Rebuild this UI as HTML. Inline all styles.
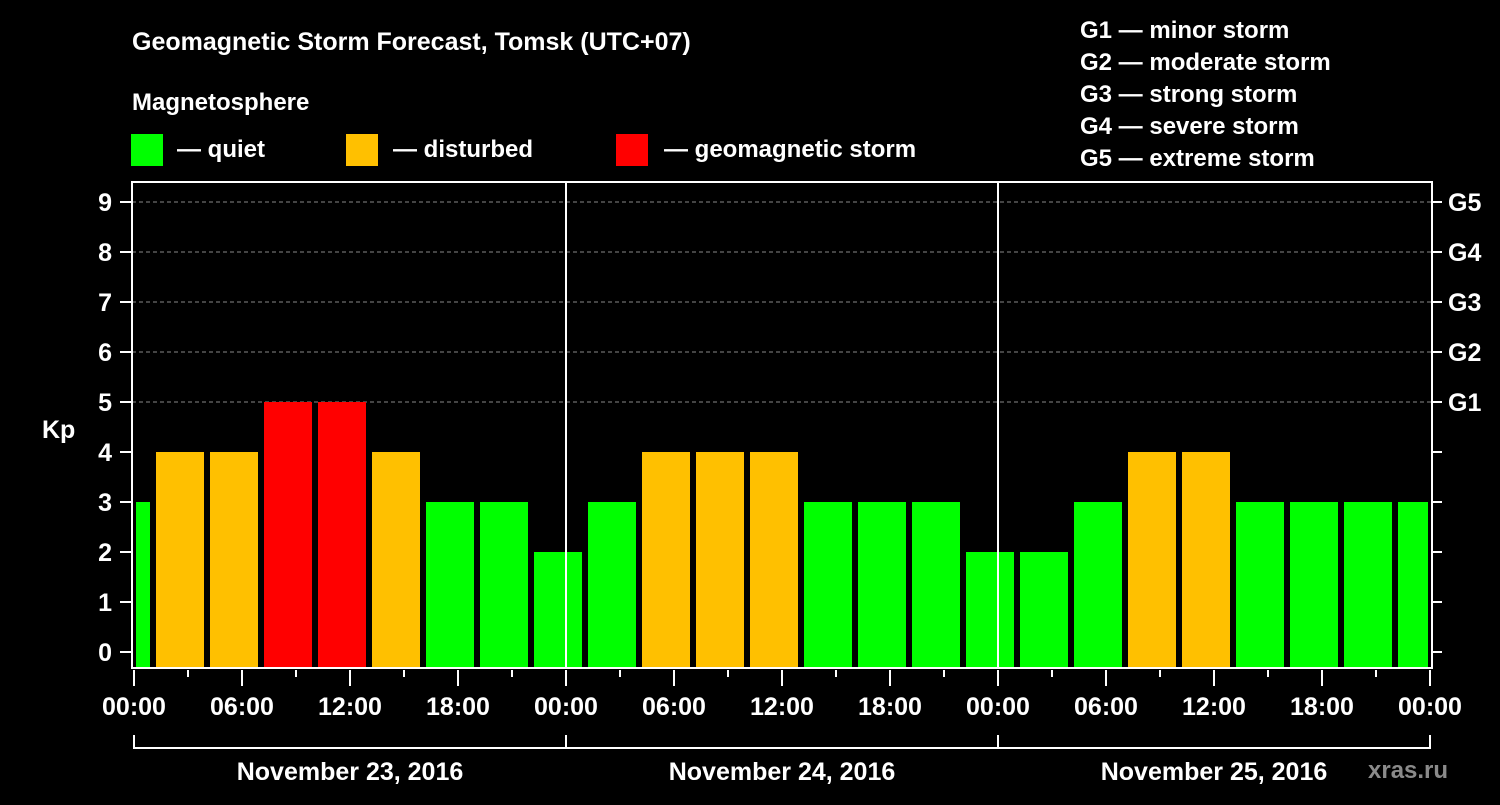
<!DOCTYPE html>
<html><head><meta charset="utf-8"><style>
body{margin:0;background:#000;width:1500px;height:800px;overflow:hidden}
svg text{font-family:"Liberation Sans",sans-serif;font-weight:bold;fill:#fff}
</style></head><body>
<svg id="c" width="1500" height="800" xmlns="http://www.w3.org/2000/svg">
<text x="132" y="50" font-size="25">Geomagnetic Storm Forecast, Tomsk (UTC+07)</text>
<text x="132" y="110" font-size="24">Magnetosphere</text>
<g><rect x="131" y="134" width="32" height="32" fill="#00ff00"/><text x="177" y="157" font-size="24">— quiet</text></g>
<g><rect x="346" y="134" width="32" height="32" fill="#ffc000"/><text x="393" y="157" font-size="24">— disturbed</text></g>
<g><rect x="616" y="134" width="32" height="32" fill="#ff0000"/><text x="664" y="157" font-size="24">— geomagnetic storm</text></g>
<g font-size="24">
<text x="1080" y="38">G1 — minor storm</text><text x="1080" y="70">G2 — moderate storm</text><text x="1080" y="102">G3 — strong storm</text><text x="1080" y="134">G4 — severe storm</text><text x="1080" y="166">G5 — extreme storm</text></g>
<text x="42" y="438" font-size="25">Kp</text>
<text x="1368" y="778" font-size="24" fill="#888" style="fill:#8a8a8a">xras.ru</text>
<g id="plot"></g>
</svg>
<script>
const kpValues=[3,4,4,5,5,4,3,3,2,3,4,4,4,3,3,3,2,2,3,4,4,3,3,3,3];
const slotStartHour=-2;
const dayLabels=["November 23, 2016","November 24, 2016","November 25, 2016"];
const hourLabels=["00:00","06:00","12:00","18:00"];
const gLabels=["G1","G2","G3","G4","G5"];
const X0=134,PX_H=1296/72,Y0=652,PX_K=50,TOP=182,BOT=668,L=132,R=1432;
const xs=h=>X0+h*PX_H, ys=k=>Y0-k*PX_K;
const g=document.getElementById('plot');const NS="http://www.w3.org/2000/svg";
function mk(t,a,txt){const e=document.createElementNS(NS,t);for(const k in a)e.setAttribute(k,a[k]);if(txt!=null)e.textContent=txt;g.appendChild(e);return e;}
for(let k=5;k<=9;k++){const e=mk('line',{x1:L,x2:R,y1:ys(k),y2:ys(k),stroke:'#888','stroke-dasharray':'4 3','stroke-width':1});

}
kpValues.forEach((v,i)=>{const h0=slotStartHour+3*i;let x1=Math.max(xs(h0)+4,L+4),x2=Math.min(xs(h0+3)-2,R-4);
const col=v>=5?'#ff0000':(v>=4?'#ffc000':'#00ff00');
const e=mk('rect',{x:x1,y:ys(v),width:x2-x1,height:BOT-ys(v),fill:col});

});
const fr=mk('rect',{x:L,y:TOP,width:R-L,height:BOT-TOP,fill:'none',stroke:'#fff','stroke-width':2});


for(let d=1;d<3;d++){const e=mk('line',{x1:xs(24*d),x2:xs(24*d),y1:TOP,y2:BOT,stroke:'#fff','stroke-width':2});

}
for(let k=0;k<=9;k++){mk('line',{x1:L-12,x2:L,y1:ys(k),y2:ys(k),stroke:'#fff','stroke-width':2});
mk('line',{x1:R,x2:R+10,y1:ys(k),y2:ys(k),stroke:'#fff','stroke-width':2});
const t=mk('text',{x:112,y:ys(k)+9,'font-size':25,'text-anchor':'end'},String(k));


if(k>=5){const gt=mk('text',{x:1448,y:ys(k)+9,'font-size':25},gLabels[k-5]);

}}
for(let h=0;h<=72;h+=3){const major=h%6===0;mk('line',{x1:xs(h),x2:xs(h),y1:BOT+2,y2:BOT+(major?18:9),stroke:'#fff','stroke-width':2});
if(major&&h%18===0||h===72){}
}
for(let h=0;h<=72;h+=6){const t=mk('text',{x:xs(h),y:715,'font-size':25,'text-anchor':'middle'},hourLabels[(h/6)%4]);

}
mk('polyline',{points:`${xs(0)},735 ${xs(0)},748 ${xs(72)},748 ${xs(72)},735`,fill:'none',stroke:'#fff','stroke-width':2});
for(let d=0;d<3;d++){mk('line',{x1:xs(24*d),x2:xs(24*d),y1:735,y2:748,stroke:'#fff','stroke-width':2});
const t=mk('text',{x:xs(24*d+12),y:780,'font-size':25,'text-anchor':'middle'},dayLabels[d]);

}
</script>
</body></html>
